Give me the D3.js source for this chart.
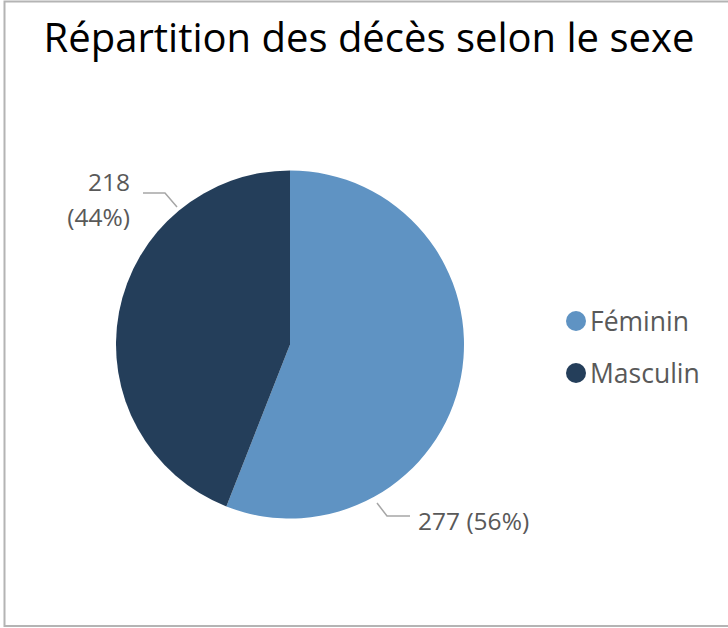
<!DOCTYPE html>
<html><head><meta charset="utf-8">
<script src="https://cdn.jsdelivr.net/npm/d3@7"></script>
<style>body{margin:0;background:#fff}svg{display:block}text{font-family:"Open Sans","Noto Sans",sans-serif}</style>
</head><body>
<svg id="c" width="728" height="628"></svg>
<script>
const categories = ["Féminin", "Masculin"];
const values = [277, 218];
const percents = ["56%", "44%"];
const colors = ["#5f93c3", "#243e5a"];
const title = "Répartition des décès selon le sexe";

const svg = d3.select("#c");
svg.append("rect").attr("x",4.5).attr("y",1.5).attr("width",740).attr("height",624.5)
  .attr("fill","#fff").attr("stroke","#b4b4b4").attr("stroke-width",2);

svg.append("text").attr("x",369).attr("y",52).attr("text-anchor","middle")
  .attr("font-size",40).attr("fill","#000").text(title);

const cx = 290, cy = 344.5, r = 174;
const pie = d3.pie().sort(null).value(d=>d)(values);
const arc = d3.arc().innerRadius(0).outerRadius(r);
const g = svg.append("g").attr("transform",`translate(${cx},${cy})`);
g.selectAll("path").data(pie).join("path").attr("d",arc).attr("fill",(d,i)=>colors[i]);

const lc = "#a6a6a6";
// Féminin label
svg.append("polyline").attr("points","377,503 387,516 410,516").attr("fill","none").attr("stroke",lc).attr("stroke-width",1.5);
svg.append("text").attr("x",418).attr("y",530).attr("font-size",24.5).attr("fill","#595959")
  .text(`${values[0]} (${percents[0]})`);
// Masculin label
svg.append("polyline").attr("points","143,193 165,193 177,207").attr("fill","none").attr("stroke",lc).attr("stroke-width",1.5);
const t2 = svg.append("text").attr("text-anchor","end").attr("font-size",24.5).attr("fill","#595959");
t2.append("tspan").attr("x",130).attr("y",191).text(values[1]);
t2.append("tspan").attr("x",130).attr("y",226).text(`(${percents[1]})`);

// legend
const lg = svg.append("g");
categories.forEach((c,i)=>{
  const y = 321 + i*52;
  lg.append("circle").attr("cx",576).attr("cy",y).attr("r",10).attr("fill",colors[i]);
  lg.append("text").attr("x",590).attr("y",y+9.5).attr("font-size",26.5).attr("fill","#595959").text(c);
});
</script>
</body></html>
